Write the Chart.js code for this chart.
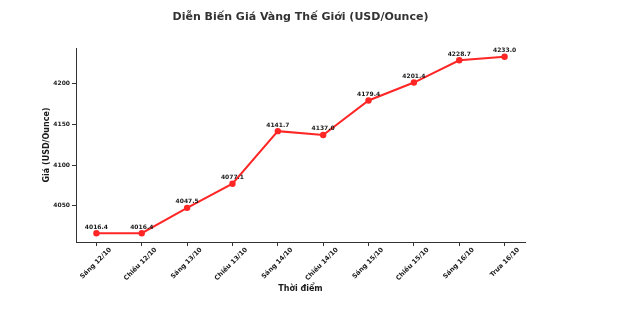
<!DOCTYPE html>
<html>
<head>
<meta charset="utf-8">
<script src="https://cdn.jsdelivr.net/npm/chart.js@4.4.1/dist/chart.umd.min.js"></script>
<style>
  html, body { margin: 0; padding: 0; background: #fff; }
  #wrap { width: 628px; height: 309px; }
</style>
</head>
<body>
<div id="wrap"><canvas id="myChart" width="628" height="309"></canvas></div>
<script>
// data
var labels = ["Sáng 12/10", "Chiều 12/10", "Sáng 13/10", "Chiều 13/10", "Sáng 14/10",
              "Chiều 14/10", "Sáng 15/10", "Chiều 15/10", "Sáng 16/10", "Trưa 16/10"]
var prices = [4016.4, 4016.4, 4047.5, 4077.1, 4141.7, 4137.0, 4179.4, 4201.4, 4228.7, 4233.0]
var yTicks = [4050, 4100, 4150, 4200]

var title = "Diễn Biến Giá Vàng Thế Giới (USD/Ounce)"
var xTitle = "Thời điểm"
var yTitle = "Giá (USD/Ounce)"

var FONT = "'DejaVu Sans', sans-serif"

// y range like matplotlib's 5% margin
var lo = Math.min.apply(null, prices), hi = Math.max.apply(null, prices)
var pad = (hi - lo) * 0.05

// draws title, axis titles and value labels
var textPlugin = {
    id: 'texts',
    afterDatasetsDraw: function (chart) {
        var ctx = chart.ctx
        var area = chart.chartArea
        var meta = chart.getDatasetMeta(0)
        ctx.save()
        ctx.fillStyle = '#1a1a1a'
        ctx.textAlign = 'center'
        ctx.textBaseline = 'alphabetic'
        ctx.font = "bold 6px " + FONT
        meta.data.forEach(function (pt, i) {
            ctx.fillText(prices[i].toFixed(1), pt.x, pt.y - 4.5)
        })
        var cx = (area.left + area.right) / 2
        ctx.textBaseline = 'middle'
        ctx.fillStyle = '#333'
        ctx.font = "bold 11px " + FONT
        ctx.fillText(title, cx, 17.5)
        ctx.fillStyle = '#1a1a1a'
        ctx.font = "bold 8px " + FONT
        ctx.fillText(xTitle, cx, 288.5)
        ctx.translate(47, (area.top + area.bottom) / 2)
        ctx.rotate(-Math.PI / 2)
        ctx.fillText(yTitle, 0, 0)
        ctx.restore()
    }
}

var chart = new Chart(document.getElementById("myChart"), {
    type: 'line',
    data: {
        datasets: [{
            data: prices.map(function (v, i) { return { x: i, y: v } }),
            borderColor: 'rgb(255,38,38)',
            backgroundColor: 'rgb(255,38,38)',
            borderWidth: 2,
            pointRadius: 2.2,
            pointHoverRadius: 2.2,
            tension: 0
        }]
    },
    options: {
        responsive: false,
        animation: false,
        events: [],
        layout: { padding: { left: 0, right: 103, top: 48, bottom: 0 } },
        plugins: {
            legend: { display: false },
            title: { display: false },
            tooltip: { enabled: false }
        },
        scales: {
            x: {
                type: 'linear',
                min: -0.45,
                max: labels.length - 1 + 0.45,
                afterBuildTicks: function (scale) {
                    scale.ticks = labels.map(function (_, i) { return { value: i } })
                },
                afterFit: function (scale) { scale.height = 67 },
                ticks: {
                    autoSkip: false,
                    minRotation: 45,
                    maxRotation: 45,
                    padding: 0,
                    labelOffset: 14,
                    color: '#1a1a1a',
                    font: { family: FONT, size: 6.5, weight: 'bold' },
                    callback: function (v) { return labels[v] }
                },
                grid: { drawOnChartArea: false, drawTicks: true, tickLength: 4, color: '#333' },
                border: { display: true, color: '#333', width: 1 }
            },
            y: {
                min: lo - pad,
                max: hi + pad,
                afterBuildTicks: function (scale) {
                    scale.ticks = yTicks.map(function (v) { return { value: v } })
                },
                afterFit: function (scale) { scale.width = 76 },
                ticks: {
                    padding: 2,
                    color: '#1a1a1a',
                    font: { family: FONT, size: 6, weight: 'bold' },
                    callback: function (v) { return String(v) }
                },
                grid: { drawOnChartArea: false, drawTicks: true, tickLength: 4, color: '#333' },
                border: { display: true, color: '#333', width: 1 }
            }
        }
    },
    plugins: [textPlugin]
})
</script>
</body>
</html>
